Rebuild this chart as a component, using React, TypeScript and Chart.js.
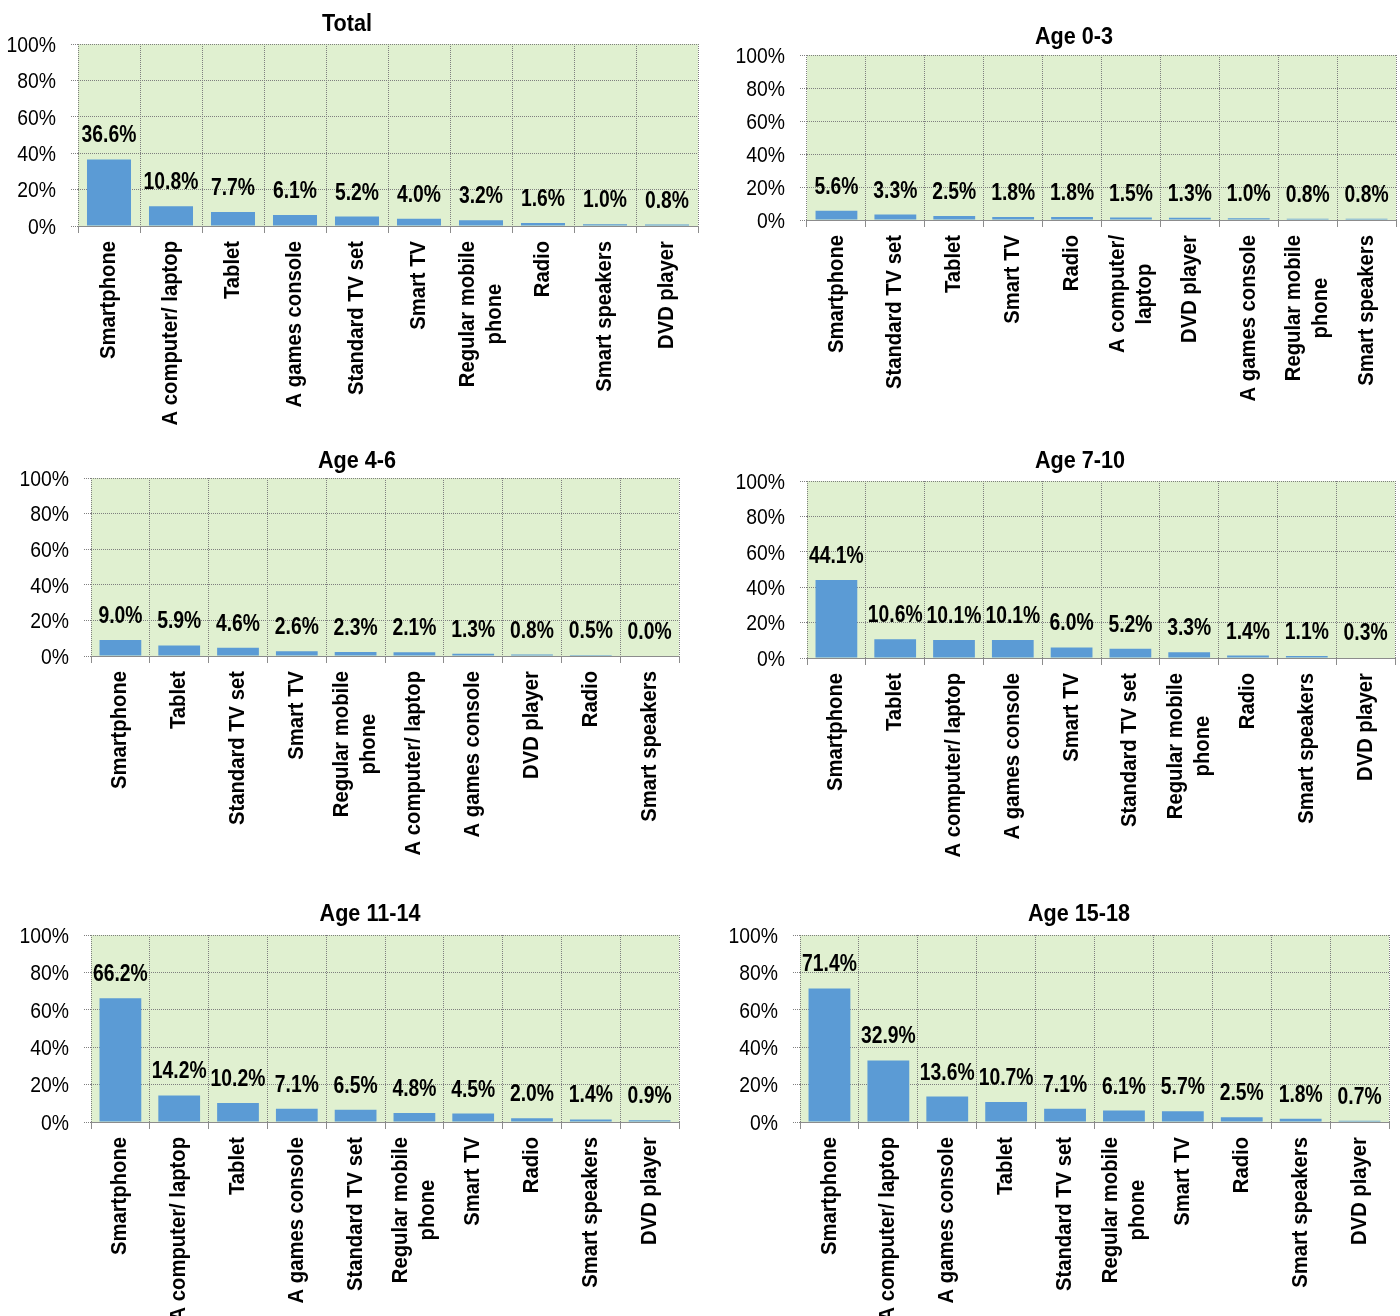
import React, { useEffect, useRef } from "react";
import { Chart, registerables } from "chart.js";

Chart.register(...registerables);

const FONT = "'Liberation Sans', Arial, sans-serif";
const BAR_COLOR = "#5B9BD5";
const PLOT_BG = "#E0F0D0";
const GRID_COLOR = "#7F7F7F";
const AXIS_COLOR = "#8C8C8C";
const TEXT_COLOR = "#000000";

// Y axis ticks (percent)
const yTicks = [0, 20, 40, 60, 80, 100];

// Category labels ("\n" marks a line break) and values per group
const totalLabels = ["Smartphone", "A computer/ laptop", "Tablet", "A games console", "Standard TV set", "Smart TV", "Regular mobile\nphone", "Radio", "Smart speakers", "DVD player"];
const totalValues = [36.6, 10.8, 7.7, 6.1, 5.2, 4.0, 3.2, 1.6, 1.0, 0.8];

const age0to3Labels = ["Smartphone", "Standard TV set", "Tablet", "Smart TV", "Radio", "A computer/\nlaptop", "DVD player", "A games console", "Regular mobile\nphone", "Smart speakers"];
const age0to3Values = [5.6, 3.3, 2.5, 1.8, 1.8, 1.5, 1.3, 1.0, 0.8, 0.8];

const age4to6Labels = ["Smartphone", "Tablet", "Standard TV set", "Smart TV", "Regular mobile\nphone", "A computer/ laptop", "A games console", "DVD player", "Radio", "Smart speakers"];
const age4to6Values = [9.0, 5.9, 4.6, 2.6, 2.3, 2.1, 1.3, 0.8, 0.5, 0.0];

const age7to10Labels = ["Smartphone", "Tablet", "A computer/ laptop", "A games console", "Smart TV", "Standard TV set", "Regular mobile\nphone", "Radio", "Smart speakers", "DVD player"];
const age7to10Values = [44.1, 10.6, 10.1, 10.1, 6.0, 5.2, 3.3, 1.4, 1.1, 0.3];

const age11to14Labels = ["Smartphone", "A computer/ laptop", "Tablet", "A games console", "Standard TV set", "Regular mobile\nphone", "Smart TV", "Radio", "Smart speakers", "DVD player"];
const age11to14Values = [66.2, 14.2, 10.2, 7.1, 6.5, 4.8, 4.5, 2.0, 1.4, 0.9];

const age15to18Labels = ["Smartphone", "A computer/ laptop", "A games console", "Tablet", "Standard TV set", "Regular mobile\nphone", "Smart TV", "Radio", "Smart speakers", "DVD player"];
const age15to18Values = [71.4, 32.9, 13.6, 10.7, 7.1, 6.1, 5.7, 2.5, 1.8, 0.7];

// Page layout of each panel: canvas box (cx, cy, cw, ch), plot area (L, R, T, B), title centre (tx, ty)
type Geo = { cx: number; cy: number; cw: number; ch: number; L: number; R: number; T: number; B: number; tx: number; ty: number };
type Panel = { title: string; labels: string[]; values: number[]; geo: Geo };

const panels: Panel[] = [
  { title: "Total", labels: totalLabels, values: totalValues,
    geo: { cx: 0, cy: 0, cw: 704, ch: 440, L: 78, R: 698, T: 44, B: 226, tx: 347, ty: 22 } },
  { title: "Age 0-3", labels: age0to3Labels, values: age0to3Values,
    geo: { cx: 704, cy: 0, cw: 696, ch: 440, L: 807, R: 1396, T: 55, B: 220, tx: 1074, ty: 35 } },
  { title: "Age 4-6", labels: age4to6Labels, values: age4to6Values,
    geo: { cx: 0, cy: 440, cw: 704, ch: 450, L: 91, R: 679, T: 478, B: 656, tx: 357, ty: 459 } },
  { title: "Age 7-10", labels: age7to10Labels, values: age7to10Values,
    geo: { cx: 704, cy: 440, cw: 696, ch: 450, L: 807, R: 1395, T: 481, B: 658, tx: 1080, ty: 459 } },
  { title: "Age 11-14", labels: age11to14Labels, values: age11to14Values,
    geo: { cx: 0, cy: 890, cw: 704, ch: 426, L: 91, R: 679, T: 935, B: 1122, tx: 370, ty: 912 } },
  { title: "Age 15-18", labels: age15to18Labels, values: age15to18Values,
    geo: { cx: 704, cy: 890, cw: 696, ch: 426, L: 800, R: 1389, T: 935, B: 1122, tx: 1079, ty: 912 } },
];

// Text styles: size in px, weight, horizontal squeeze (narrow face look)
const TITLE_STYLE = { size: 24, weight: "bold", squeeze: 0.9 };
const VALUE_STYLE = { size: 23, weight: "bold", squeeze: 0.84 };
const YTICK_STYLE = { size: 22, weight: "normal", squeeze: 0.88 };
const CAT_STYLE = { size: 22, weight: "bold", squeeze: 0.92 };
const CAT_LINE_HEIGHT = 27;

type TextStyle = { size: number; weight: string; squeeze: number };

function drawText(
  ctx: CanvasRenderingContext2D,
  text: string,
  x: number,
  y: number,
  style: TextStyle,
  align: CanvasTextAlign
) {
  ctx.save();
  ctx.translate(x, y);
  ctx.scale(style.squeeze, 1);
  ctx.font = `${style.weight} ${style.size}px ${FONT}`;
  ctx.fillStyle = TEXT_COLOR;
  ctx.textAlign = align;
  ctx.textBaseline = "alphabetic";
  ctx.fillText(text, 0, 0);
  ctx.restore();
}

function BarPanel({ panel }: { panel: Panel }) {
  const ref = useRef<HTMLCanvasElement | null>(null);

  useEffect(() => {
    const g = panel.geo;
    const canvas = ref.current;
    if (!canvas) return;

    const decorations = {
      id: "panelDecorations",
      beforeDraw(chart: any) {
        const { ctx, chartArea } = chart;
        ctx.save();
        ctx.fillStyle = PLOT_BG;
        ctx.fillRect(chartArea.left, chartArea.top, chartArea.right - chartArea.left, chartArea.bottom - chartArea.top);
        ctx.restore();
      },
      afterDatasetsDraw(chart: any) {
        const { ctx, chartArea } = chart;
        // Solid category axis line
        ctx.save();
        ctx.strokeStyle = AXIS_COLOR;
        ctx.lineWidth = 1;
        ctx.beginPath();
        const yb = Math.round(chartArea.bottom) + 0.5;
        ctx.moveTo(chartArea.left, yb);
        ctx.lineTo(chartArea.right, yb);
        ctx.stroke();
        ctx.restore();
        // Value labels above bars
        const meta = chart.getDatasetMeta(0);
        meta.data.forEach((bar: any, i: number) => {
          const v = panel.values[i];
          drawText(ctx, v.toFixed(1) + "%", bar.x, bar.y - 17, VALUE_STYLE, "center");
        });
      },
      afterDraw(chart: any) {
        const { ctx, chartArea } = chart;
        const xScale = chart.scales.x;
        const yScale = chart.scales.y;
        // Title
        drawText(ctx, panel.title, g.tx - g.cx, g.ty - g.cy + 8.5, TITLE_STYLE, "center");
        // Y tick labels
        yTicks.forEach((v) => {
          const py = yScale.getPixelForValue(v);
          drawText(ctx, `${v}%`, chartArea.left - 22, py + 7.8, YTICK_STYLE, "right");
        });
        // Rotated category labels, ending just below the axis
        ctx.save();
        ctx.font = `${CAT_STYLE.weight} ${CAT_STYLE.size}px ${FONT}`;
        ctx.fillStyle = TEXT_COLOR;
        panel.labels.forEach((label, i) => {
          const lines = label.split("\n");
          const maxW = Math.max(...lines.map((l) => ctx.measureText(l).width)) * CAT_STYLE.squeeze;
          const x = xScale.getPixelForValue(i);
          ctx.save();
          ctx.translate(x, chartArea.bottom + 15);
          ctx.rotate(-Math.PI / 2);
          ctx.textAlign = "center";
          ctx.textBaseline = "middle";
          lines.forEach((line, j) => {
            const off = (j - (lines.length - 1) / 2) * CAT_LINE_HEIGHT;
            ctx.save();
            ctx.translate(-maxW / 2, off);
            ctx.scale(CAT_STYLE.squeeze, 1);
            ctx.fillText(line, 0, 0);
            ctx.restore();
          });
          ctx.restore();
        });
        ctx.restore();
      },
    };

    const chart = new Chart(canvas, {
      type: "bar",
      data: {
        labels: panel.labels,
        datasets: [
          {
            data: panel.values,
            backgroundColor: BAR_COLOR,
            borderWidth: 0,
            categoryPercentage: 0.71,
            barPercentage: 1,
          },
        ],
      },
      options: {
        responsive: false,
        animation: false,
        devicePixelRatio: 1,
        events: [],
        layout: {
          padding: { left: 0, top: g.T - g.cy, right: g.cx + g.cw - g.R, bottom: 0 },
        },
        plugins: {
          legend: { display: false },
          tooltip: { enabled: false },
          title: { display: false },
        },
        scales: {
          x: {
            offset: true,
            afterFit: (scale: any) => {
              scale.height = g.cy + g.ch - g.B;
            },
            grid: {
              offset: true,
              color: GRID_COLOR,
              lineWidth: 1,
              drawTicks: true,
              tickLength: 7,
              tickColor: AXIS_COLOR,
              tickBorderDash: [],
            },
            border: { display: false, dash: [1, 1] },
            ticks: { display: false },
          },
          y: {
            min: 0,
            max: 100,
            afterFit: (scale: any) => {
              scale.width = g.L - g.cx;
            },
            afterBuildTicks: (scale: any) => {
              scale.ticks = yTicks.map((v) => ({ value: v }));
            },
            grid: {
              color: GRID_COLOR,
              lineWidth: 1,
              drawTicks: true,
              tickLength: 7,
              tickColor: GRID_COLOR,
              tickBorderDash: [1, 1],
            },
            border: { display: false, dash: [1, 1] },
            ticks: { display: false },
          },
        },
      },
      plugins: [decorations],
    } as any);

    return () => chart.destroy();
  }, [panel]);

  const g = panel.geo;
  return (
    <canvas
      ref={ref}
      width={g.cw}
      height={g.ch}
      style={{ position: "absolute", left: g.cx, top: g.cy, width: g.cw, height: g.ch }}
    />
  );
}

export default function App() {
  return (
    <div
      style={{
        position: "absolute",
        left: 0,
        top: 0,
        width: 1400,
        height: 1316,
        overflow: "hidden",
        background: "#ffffff",
      }}
    >
      {panels.map((p) => (
        <BarPanel key={p.title} panel={p} />
      ))}
    </div>
  );
}
